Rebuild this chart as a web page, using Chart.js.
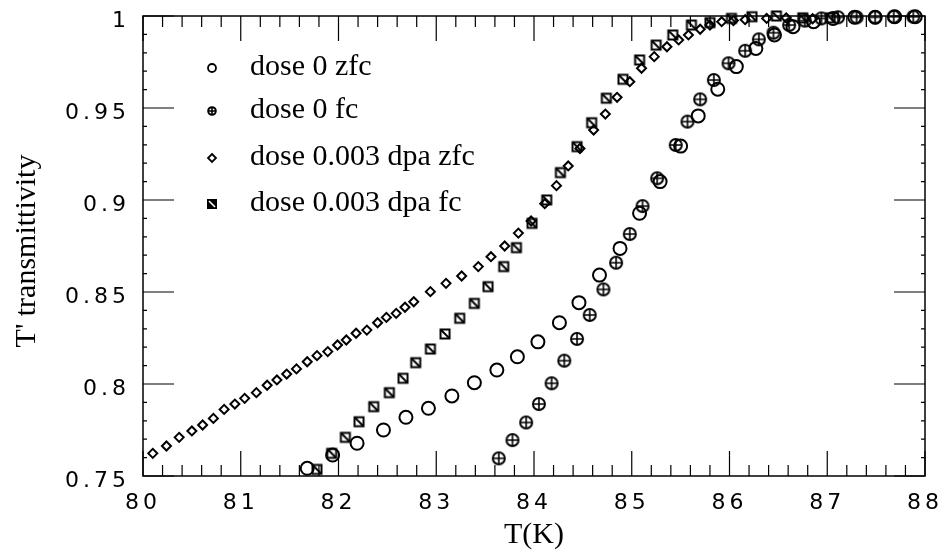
<!DOCTYPE html>
<html>
<head>
<meta charset="utf-8">
<script src="https://cdn.jsdelivr.net/npm/chart.js@4.4.1/dist/chart.umd.min.js"></script>
<style>
  html, body { margin: 0; padding: 0; background: #fff; }
</style>
</head>
<body>
<canvas id="grafico" width="943" height="550"></canvas>
<script>
// dose 0 zfc (open circles)
const tDose0Zfc = [81.68, 81.94, 82.19, 82.46, 82.69, 82.92, 83.16, 83.39, 83.62, 83.83, 84.04, 84.26, 84.46, 84.67, 84.88, 85.08, 85.29, 85.50, 85.68, 85.88, 86.07, 86.27, 86.46, 86.65, 86.86, 87.06, 87.28, 87.49, 87.69, 87.90];
const vDose0Zfc = [0.7542, 0.7614, 0.7678, 0.7750, 0.7819, 0.7868, 0.7935, 0.8007, 0.8076, 0.8148, 0.8229, 0.8333, 0.8442, 0.8592, 0.8737, 0.8928, 0.9100, 0.9293, 0.9457, 0.9602, 0.9725, 0.9824, 0.9897, 0.9942, 0.9969, 0.9987, 0.9993, 0.9993, 0.9996, 0.9996];

// dose 0 fc (circle with cross)
const tDose0Fc = [83.64, 83.78, 83.92, 84.05, 84.18, 84.31, 84.44, 84.57, 84.71, 84.84, 84.98, 85.11, 85.26, 85.45, 85.57, 85.70, 85.84, 85.99, 86.16, 86.30, 86.45, 86.61, 86.77, 86.94, 87.11, 87.30, 87.49, 87.68, 87.88];
const vDose0Fc = [0.7596, 0.7695, 0.7791, 0.7891, 0.8004, 0.8127, 0.8245, 0.8375, 0.8514, 0.8659, 0.8815, 0.8967, 0.9118, 0.9299, 0.9426, 0.9547, 0.9652, 0.9743, 0.9811, 0.9873, 0.9909, 0.9951, 0.9975, 0.9987, 0.9993, 0.9993, 0.9993, 0.9996, 0.9996];

// dose 0.003 dpa zfc (diamonds)
const tDpaZfc = [80.10, 80.24, 80.37, 80.50, 80.61, 80.72, 80.83, 80.94, 81.04, 81.16, 81.27, 81.37, 81.47, 81.57, 81.68, 81.78, 81.89, 81.99, 82.08, 82.18, 82.29, 82.40, 82.49, 82.59, 82.68, 82.77, 82.94, 83.10, 83.26, 83.43, 83.56, 83.70, 83.84, 83.97, 84.11, 84.23, 84.35, 84.47, 84.61, 84.73, 84.85, 84.98, 85.10, 85.23, 85.36, 85.48, 85.58, 85.70, 85.80, 85.92, 86.04, 86.16, 86.38, 86.58, 86.85];
const vDpaZfc = [0.7623, 0.7663, 0.7710, 0.7745, 0.7777, 0.7813, 0.7862, 0.7891, 0.7922, 0.7953, 0.7993, 0.8022, 0.8054, 0.8082, 0.8121, 0.8154, 0.8176, 0.8212, 0.8239, 0.8276, 0.8293, 0.8333, 0.8362, 0.8384, 0.8417, 0.8447, 0.8502, 0.8547, 0.8587, 0.8638, 0.8692, 0.8750, 0.8820, 0.8886, 0.8980, 0.9078, 0.9185, 0.9280, 0.9380, 0.9467, 0.9558, 0.9643, 0.9716, 0.9779, 0.9833, 0.9870, 0.9897, 0.9928, 0.9951, 0.9969, 0.9975, 0.9980, 0.9987, 0.9990, 0.9985];

// dose 0.003 dpa fc (square with diagonal)
const tDpaFc = [81.78, 81.93, 82.07, 82.21, 82.36, 82.52, 82.66, 82.79, 82.94, 83.09, 83.24, 83.39, 83.53, 83.69, 83.82, 83.98, 84.13, 84.27, 84.44, 84.59, 84.74, 84.91, 85.08, 85.25, 85.42, 85.61, 85.80, 86.02, 86.23, 86.48, 86.75, 87.03];
const vDpaFc = [0.7536, 0.7623, 0.7710, 0.7795, 0.7877, 0.7953, 0.8031, 0.8116, 0.8190, 0.8272, 0.8357, 0.8438, 0.8529, 0.8638, 0.8741, 0.8873, 0.9000, 0.9149, 0.9290, 0.9420, 0.9553, 0.9656, 0.9761, 0.9842, 0.9897, 0.9951, 0.9964, 0.9987, 0.9996, 1.0000, 0.9990, 0.9990];

const rotulos = ["dose 0 zfc", "dose 0 fc", "dose 0.003 dpa zfc", "dose 0.003 dpa fc"];

function pontos(ts, vs) {
  return ts.map((t, i) => ({ x: t, y: vs[i] }));
}

// marker images
function circuloCruz(r, lw) {
  const c = document.createElement("canvas");
  const s = 2 * Math.ceil(r + lw / 2 + 1);
  c.width = s; c.height = s;
  const g = c.getContext("2d");
  const m = s / 2;
  g.strokeStyle = "#000"; g.lineWidth = lw;
  g.beginPath(); g.arc(m, m, r, 0, Math.PI * 2); g.stroke();
  g.lineWidth = lw * 0.8;
  g.beginPath();
  g.moveTo(m - r, m); g.lineTo(m + r, m);
  g.moveTo(m, m - r); g.lineTo(m, m + r);
  g.stroke();
  return c;
}

function quadradoDiag(lado, lw, cheio) {
  const c = document.createElement("canvas");
  const s = 2 * Math.ceil(lado / 2 + lw / 2 + 1);
  c.width = s; c.height = s;
  const g = c.getContext("2d");
  const o = (s - lado) / 2;
  if (cheio) {
    g.fillStyle = "#000"; g.fillRect(o, o, lado, lado);
    g.strokeStyle = "#fff"; g.lineWidth = lw;
    g.beginPath(); g.moveTo(o + 2, o + 2); g.lineTo(o + lado - 2, o + lado - 2); g.stroke();
    return c;
  }
  g.strokeStyle = "#000"; g.lineWidth = lw;
  g.strokeRect(o, o, lado, lado);
  g.beginPath(); g.moveTo(o, o); g.lineTo(o + lado, o + lado); g.stroke();
  return c;
}

const imgCruz = circuloCruz(6, 2);
const imgQuad = quadradoDiag(9, 2, false);

const legendaIcones = [
  (ctx, x, y) => { ctx.lineWidth = 1.8; ctx.beginPath(); ctx.arc(x, y, 4, 0, Math.PI * 2); ctx.stroke(); },
  (ctx, x, y) => { const q = circuloCruz(3.8, 2); ctx.drawImage(q, Math.round(x - q.width / 2), Math.round(y - q.height / 2)); },
  (ctx, x, y) => { ctx.lineWidth = 1.8; ctx.beginPath(); ctx.moveTo(x, y - 4); ctx.lineTo(x + 4, y); ctx.lineTo(x, y + 4); ctx.lineTo(x - 4, y); ctx.closePath(); ctx.stroke(); },
  (ctx, x, y) => { const q = quadradoDiag(10, 1.6, true); ctx.drawImage(q, Math.round(x - q.width / 2), Math.round(y - q.height / 2)); }
];

const molduraPlugin = {
  id: "moldura",
  beforeDraw(chart) {
    chart.ctx.letterSpacing = "4px";
  },
  afterDraw(chart) {
    const ctx = chart.ctx;
    const a = chart.chartArea;
    const sx = chart.scales.x, sy = chart.scales.y;
    ctx.save();
    ctx.letterSpacing = "0px";
    ctx.strokeStyle = "#000";
    ctx.fillStyle = "#000";
    ctx.lineWidth = 1.5;
    ctx.strokeRect(a.left, a.top, a.right - a.left, a.bottom - a.top);

    // inward ticks
    ctx.lineWidth = 1.2;
    ctx.beginPath();
    for (let i = 0; i <= 40; i++) {
      const px = sx.getPixelForValue(80 + i * 0.2);
      const len = i % 5 === 0 ? 25 : 11;
      ctx.moveTo(px, a.bottom); ctx.lineTo(px, a.bottom - len);
      ctx.moveTo(px, a.top); ctx.lineTo(px, a.top + len);
    }
    for (let i = 0; i <= 25; i++) {
      const py = sy.getPixelForValue(0.75 + i * 0.01);
      const len = i % 5 === 0 ? 31 : 4;
      ctx.moveTo(a.left, py); ctx.lineTo(a.left + len, py);
      ctx.moveTo(a.right, py); ctx.lineTo(a.right - len, py);
    }
    ctx.stroke();

    // axis titles
    ctx.font = '30px "Liberation Serif"';
    ctx.textAlign = "center";
    ctx.textBaseline = "middle";
    ctx.fillText("T(K)", (a.left + a.right) / 2, 535);
    ctx.save();
    ctx.translate(27, 251);
    ctx.rotate(-Math.PI / 2);
    ctx.fillText("T' transmittivity", 0, 0);
    ctx.restore();

    // legend
    ctx.textAlign = "left";
    ctx.textBaseline = "alphabetic";
    const bases = [75, 118, 165, 211];
    rotulos.forEach((txt, i) => {
      legendaIcones[i](ctx, 212, bases[i] - 7);
      ctx.fillText(txt, 250, bases[i]);
    });
    ctx.restore();
  }
};

const fonteTick = { family: "DejaVu Sans", size: 22 };

new Chart(document.getElementById("grafico"), {
  type: "scatter",
  data: {
    datasets: [
      {
        label: rotulos[0],
        data: pontos(tDose0Zfc, vDose0Zfc),
        pointStyle: "circle",
        pointRadius: 6.5,
        borderColor: "#000",
        backgroundColor: "rgba(0,0,0,0)",
        borderWidth: 2,
        clip: false
      },
      {
        label: rotulos[1],
        data: pontos(tDose0Fc, vDose0Fc),
        pointStyle: imgCruz,
        pointRadius: 6,
        borderColor: "#000",
        clip: false
      },
      {
        label: rotulos[2],
        data: pontos(tDpaZfc, vDpaZfc),
        pointStyle: "rectRot",
        pointRadius: 4.5,
        borderColor: "#000",
        backgroundColor: "rgba(0,0,0,0)",
        borderWidth: 2,
        clip: false
      },
      {
        label: rotulos[3],
        data: pontos(tDpaFc, vDpaFc),
        pointStyle: imgQuad,
        pointRadius: 5,
        borderColor: "#000",
        clip: false
      }
    ]
  },
  options: {
    responsive: false,
    animation: false,
    devicePixelRatio: 1,
    layout: { padding: { top: 16, right: 18, left: 0, bottom: 0 } },
    plugins: {
      legend: { display: false },
      tooltip: { enabled: false }
    },
    scales: {
      x: {
        type: "linear",
        min: 80,
        max: 88,
        grid: { display: false, drawTicks: false },
        border: { display: false },
        ticks: { stepSize: 1, font: fonteTick, color: "#000", padding: 14, maxRotation: 0 },
        afterFit(s) {
          s.height = 74;
          s.paddingLeft = 0; s.paddingRight = 0;
        }
      },
      y: {
        min: 0.75,
        max: 1,
        grid: { display: false, drawTicks: false },
        border: { display: false },
        ticks: {
          stepSize: 0.05,
          font: fonteTick,
          color: "#000",
          padding: 13,
          labelOffset: 5,
          callback: v => String(Number(v.toFixed(2)))
        },
        afterFit(s) {
          s.width = 143;
          s.paddingTop = 0; s.paddingBottom = 0;
        }
      }
    }
  },
  plugins: [molduraPlugin]
});
</script>
</body>
</html>
